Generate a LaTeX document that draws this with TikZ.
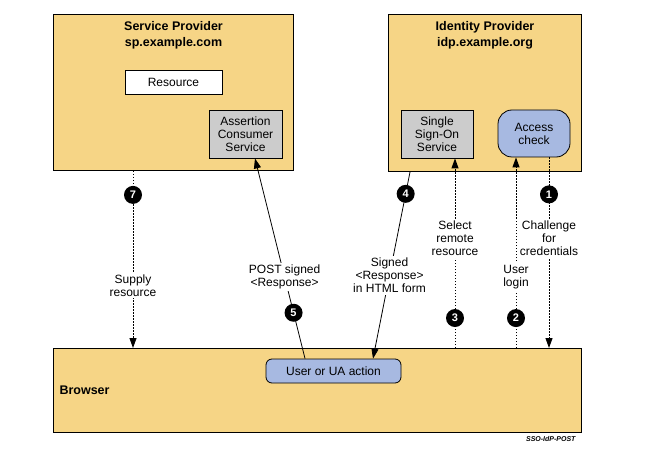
\documentclass[tikz,border=0pt]{standalone}
\usepackage{fontspec}
\setmainfont{Liberation Sans}
\usetikzlibrary{arrows.meta,positioning}
\definecolor{partyfill}{RGB}{246,213,134}
\definecolor{svcfill}{RGB}{204,204,204}
\definecolor{actfill}{RGB}{167,185,225}

\begin{document}
\begin{tikzpicture}[x=1pt,y=-1pt,>={Triangle[length=10pt,width=7pt]},
  every node/.style={font=\fontsize{12}{13}\selectfont},
  party/.style={draw,line width=1pt,fill=partyfill,anchor=north west,inner sep=0pt},
  title/.style={font=\fontsize{12.5}{16}\selectfont\bfseries,align=center},
  svc/.style={draw,line width=0.8pt,fill=svcfill,align=center,inner sep=0pt,minimum width=72,minimum height=48},
  act/.style={draw,line width=0.8pt,fill=actfill,align=center,inner sep=0pt},
  num/.style={circle,fill=black,text=white,inner sep=0pt,minimum size=18pt,font=\fontsize{11}{11}\selectfont\bfseries},
  lbl/.style={fill=white,align=center,inner sep=2pt},
  dotline/.style={line width=1pt,dash pattern=on 1.5pt off 1.5pt},
  solidline/.style={line width=0.8pt}]

  \useasboundingbox (0,0) rectangle (658,449);

  % parties
  \node[party,minimum width=240,minimum height=156] (sp) at (53,14) {};
  \node[party,minimum width=193,minimum height=157] (idp) at (388,14) {};
  \node[party,minimum width=528,minimum height=84] (browser) at (53,348) {};

  \node[title,below=4pt of sp.north] (sptitle) {Service Provider\\sp.example.com};
  \node[title,below=4pt of idp.north] (idptitle) {Identity Provider\\idp.example.org};
  \node[font=\fontsize{12.5}{14}\selectfont\bfseries,anchor=west] (brlabel) at (56,390) {Browser};

  % services
  \node[draw,line width=0.8pt,fill=white,minimum width=97,minimum height=24,inner sep=0pt] (resource) at (173.5,82) {Resource};
  \node[svc,minimum width=73] (acs) at (245.5,134) {Assertion\\Consumer\\Service};
  \node[svc] (sso) at (437,134) {Single\\Sign-On\\Service};
  \node[act,rounded corners=14pt,minimum width=72,minimum height=47] (access) at (534,133.5) {Access\\check};
  \node[act,rounded corners=6pt,minimum width=135,minimum height=24] (ua) at (333.5,371) {User or UA action};

  \node[anchor=east,font=\fontsize{7}{7}\selectfont\bfseries\itshape] (figid) at (579,439) {SSO-IdP-POST};

  % x positions of the connectors
  \coordinate (x7) at (133,0);
  \coordinate (x5a) at (305,0);
  \coordinate (x5b) at (255,0);
  \coordinate (x4a) at (410,0);
  \coordinate (x4b) at (373,0);
  \coordinate (x3) at (455,0);
  \coordinate (x2) at (516,0);
  \coordinate (x1) at (549,0);

  % steps
  \draw[dotline,->] (access.south -| x1) --
    node[pos=.194,num] (n1) {1}
    node[pos=.424,lbl] (l1) {Challenge\\for\\credentials} (browser.north -| x1);
  \draw[dotline,->] (browser.north -| x2) --
    node[pos=.157,num] (n2) {2}
    node[pos=.372,lbl] (l2) {User\\login} (access.south -| x2);
  \draw[dotline,->] (browser.north -| x3) --
    node[pos=.158,num] (n3) {3}
    node[pos=.579,lbl] (l3) {Select\\remote\\resource} (sso.south -| x3);
  \draw[solidline,->] (idp.south -| x4a) --
    node[pos=.117,num] (n4) {4}
    node[pos=.553,lbl] (l4) {Signed\\<Response>\\in HTML form} (ua.north -| x4b);
  \draw[solidline,->] (ua.north -| x5a) --
    node[pos=.229,num] (n5) {5}
    node[pos=.408,lbl] (l5) {POST signed\\<Response>} (acs.south -| x5b);
  \draw[dotline,->] (sp.south -| x7) --
    node[pos=.135,num] (n7) {7}
    node[pos=.646,lbl] (l7) {Supply\\resource} (browser.north -| x7);

\end{tikzpicture}
\end{document}
